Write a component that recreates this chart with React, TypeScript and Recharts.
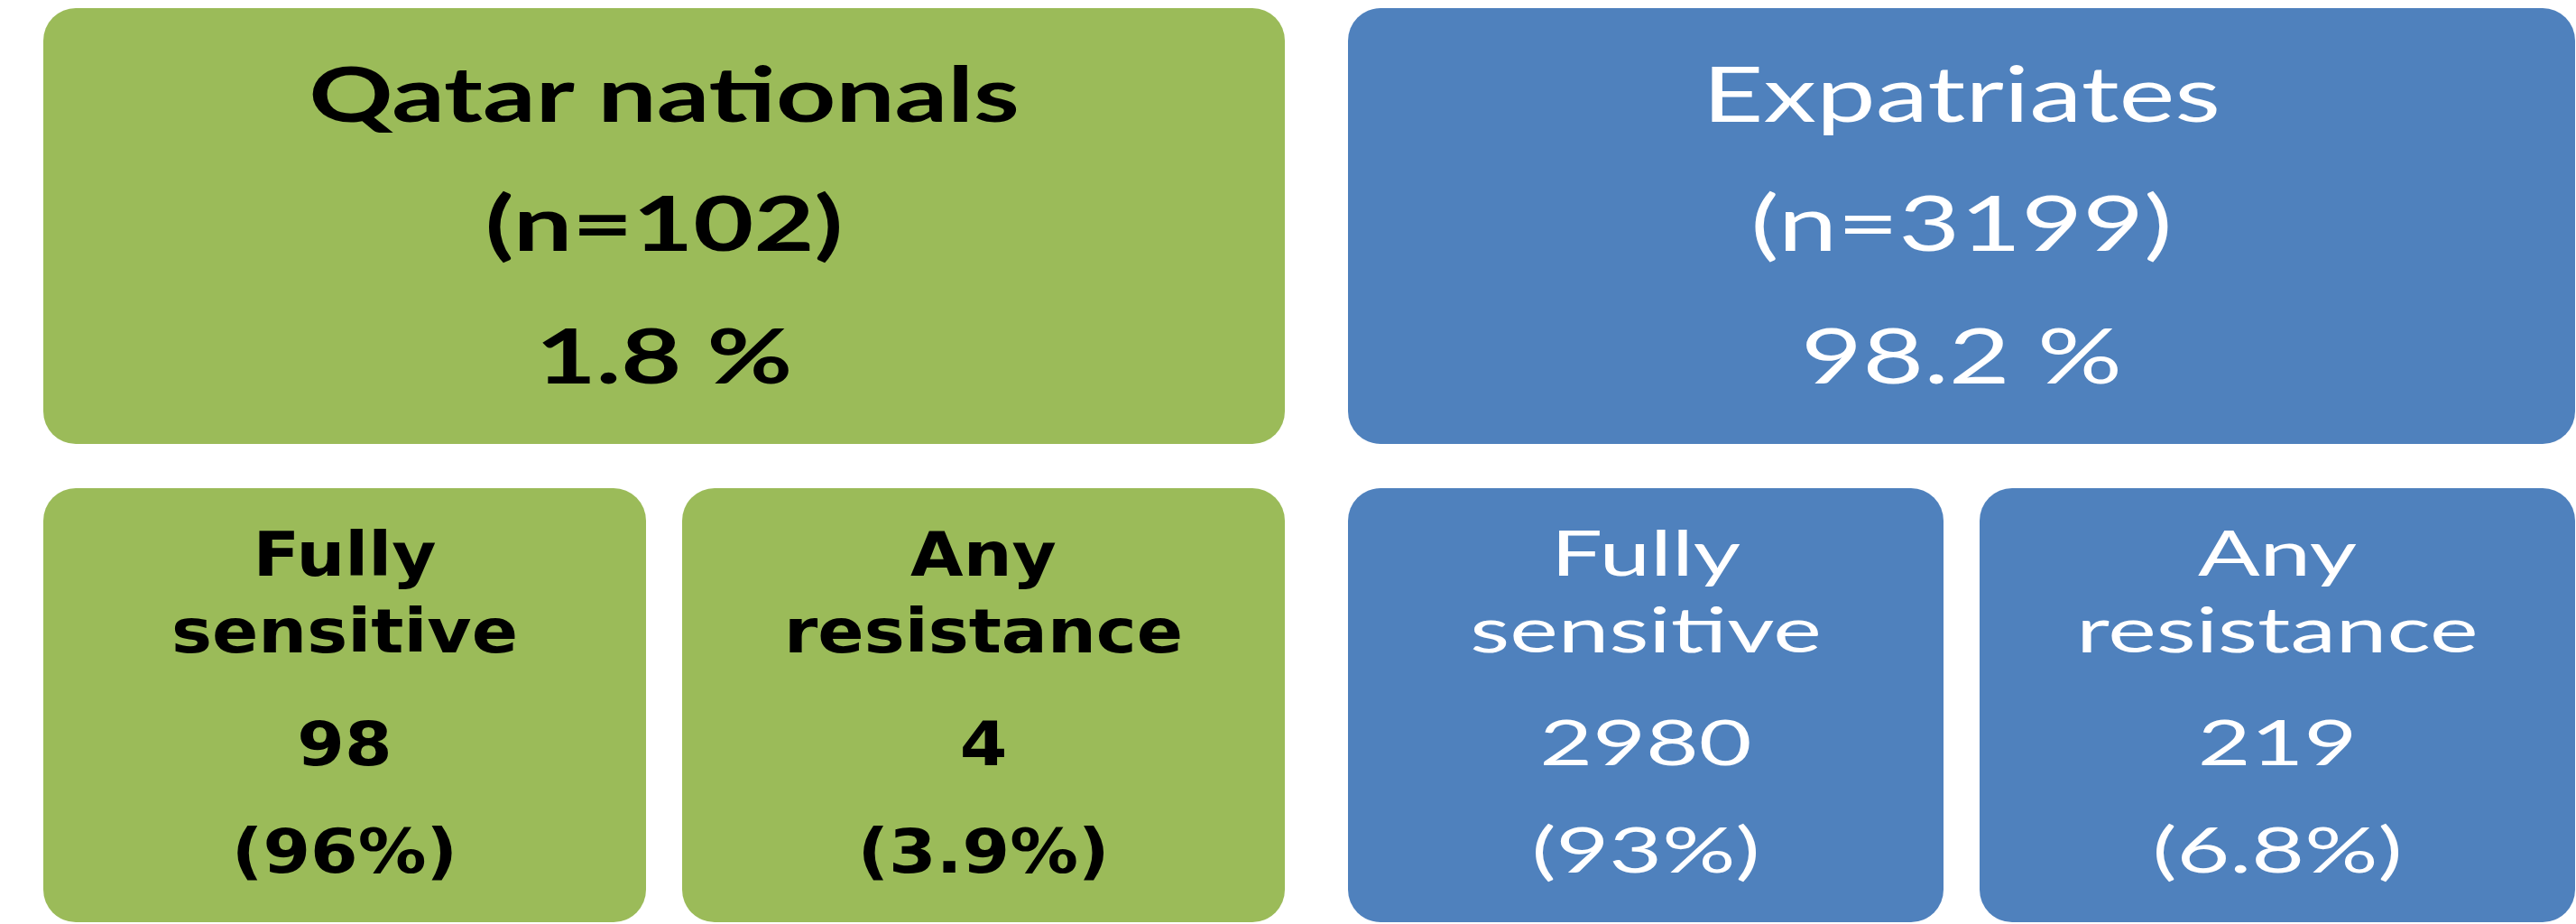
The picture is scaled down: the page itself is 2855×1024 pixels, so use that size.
import React from 'react';
import { BarChart, Bar, XAxis, YAxis } from 'recharts';

// ---- data ----
const groups = ['Qatar nationals', 'Expatriates'];
const groupN = [102, 3199];
const groupPct = [1.8, 98.2];
const outcomeLines = [['Fully', 'sensitive'], ['Any', 'resistance']];
const outcomeCounts = [[98, 4], [2980, 219]];
const outcomePct = [[96, 3.9], [93, 6.8]];

// ---- styles / layout ----
const STYLES = [
  {
    fill: '#9BBB59', text: '#000000',
    topFamily: 'Lato', topWeight: 700, topSize: 85, topSx: 1.36,
    subFamily: '"DejaVu Sans"', subWeight: 700, subSize: 67, subSx: 1.13,
  },
  {
    fill: '#4F81BD', text: '#FFFFFF',
    topFamily: 'Lato', topWeight: 400, topSize: 85, topSx: 1.38,
    subFamily: 'Lato', subWeight: 400, subSize: 70, subSx: 1.45,
  },
];
const GROUP_LEFT = [48, 1494];
const GROUP_WIDTH = [1376, 1360];
const TOP_Y = 9;
const TOP_H = 483;
const BOT_Y = 541;
const BOT_H = 481;
const INNER_GAP = 40;
const RADIUS = 36;
const TOP_BASELINES = [126, 269, 416];
const BOT_BASELINES = [97, 182, 307, 426];

function StretchText({ cx, y, sx, children, style }: any) {
  return (
    <text
      transform={`translate(${cx} ${y}) scale(${sx} 1)`}
      x={0}
      y={0}
      textAnchor="middle"
      fill={style.fill}
      fontFamily={style.family}
      fontWeight={style.weight}
      fontSize={style.size}
    >
      {children}
    </text>
  );
}

function makeTopShape(g: number) {
  const s = STYLES[g];
  return (props: any) => {
    const { x, y, width, height, payload } = props;
    const cx = x + width / 2;
    const ts = { fill: s.text, family: s.topFamily, weight: s.topWeight, size: s.topSize };
    const lines = [payload.name, `(n=${payload.n})`, `${payload.pct} %`];
    return (
      <g>
        <rect x={x} y={y} width={width} height={height} rx={RADIUS} ry={RADIUS} fill={s.fill} />
        {lines.map((t, i) => (
          <StretchText key={i} cx={cx} y={y + TOP_BASELINES[i]} sx={s.topSx} style={ts}>{t}</StretchText>
        ))}
      </g>
    );
  };
}

function makeBottomShape(g: number) {
  const s = STYLES[g];
  return (props: any) => {
    const { x, y, width, height, payload } = props;
    const cx = x + width / 2;
    const ts = { fill: s.text, family: s.subFamily, weight: s.subWeight, size: s.subSize };
    const lines = [...payload.lines, `${payload.count}`, `(${payload.pct}%)`];
    return (
      <g>
        <rect x={x} y={y} width={width} height={height} rx={RADIUS} ry={RADIUS} fill={s.fill} />
        {lines.map((t: string, i: number) => (
          <StretchText key={i} cx={cx} y={y + BOT_BASELINES[i]} sx={s.subSx} style={ts}>{t}</StretchText>
        ))}
      </g>
    );
  };
}

function GroupBlock({ g }: { g: number }) {
  const topData = [{ name: groups[g], n: groupN[g], pct: groupPct[g], box: 1 }];
  const botData = outcomeLines.map((lines, i) => ({
    name: lines.join(' '),
    lines,
    count: outcomeCounts[g][i],
    pct: outcomePct[g][i],
    box: 1,
  }));
  const W = GROUP_WIDTH[g];
  const half = INNER_GAP / 2;
  return (
    <>
      <div style={{ position: 'absolute', left: GROUP_LEFT[g], top: TOP_Y }}>
        <BarChart width={W} height={TOP_H} data={topData} margin={{ top: 0, right: 0, bottom: 0, left: 0 }} barCategoryGap={0}>
          <XAxis dataKey="name" hide />
          <YAxis hide domain={[0, 1]} />
          <Bar dataKey="box" isAnimationActive={false} shape={makeTopShape(g)} />
        </BarChart>
      </div>
      <div style={{ position: 'absolute', left: GROUP_LEFT[g] - half, top: BOT_Y }}>
        <BarChart width={W + INNER_GAP} height={BOT_H} data={botData} margin={{ top: 0, right: 0, bottom: 0, left: 0 }} barCategoryGap={half}>
          <XAxis dataKey="name" hide />
          <YAxis hide domain={[0, 1]} />
          <Bar dataKey="box" isAnimationActive={false} shape={makeBottomShape(g)} />
        </BarChart>
      </div>
    </>
  );
}

export default function App() {
  return (
    <div style={{ position: 'absolute', left: 0, top: 0, width: 2855, height: 1024, background: '#ffffff', overflow: 'hidden' }}>
      {groups.map((_, g) => (
        <GroupBlock key={g} g={g} />
      ))}
    </div>
  );
}
